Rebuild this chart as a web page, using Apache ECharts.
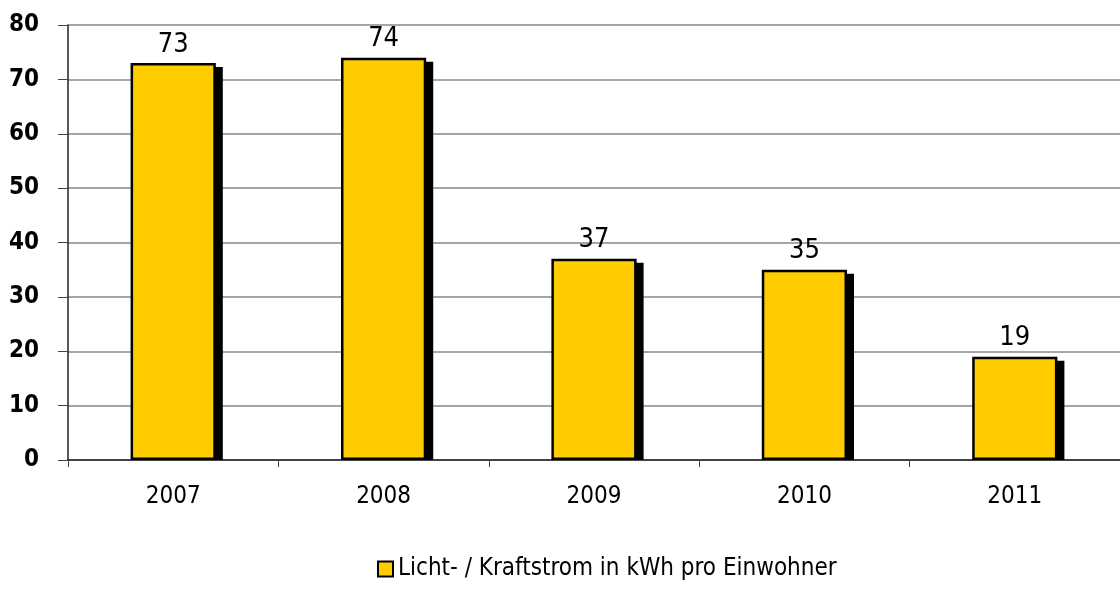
<!DOCTYPE html>
<html>
<head>
<meta charset="utf-8">
<script src="https://cdn.jsdelivr.net/npm/echarts@6/dist/echarts.min.js"></script>
<style>
  html, body { margin: 0; padding: 0; background: #fff; }
  #chart { width: 1120px; height: 591px; }
</style>
</head>
<body>
<div id="chart"></div>
<script>
// data
var years = ['2007', '2008', '2009', '2010', '2011']
var stromWerte = [73, 74, 37, 35, 19]
var serienName = 'Licht- / Kraftstrom in kWh pro Einwohner'

var fontName = '"Liberation Sans Narrow", "DejaVu Sans Condensed", sans-serif'
var barAnteil = 0.405

// black drop shadow behind each bar
function renderShadow(params, api) {
  var top = api.coord([api.value(0), api.value(1)])
  var base = api.coord([api.value(0), 0])
  var w = api.size([1, 0])[0] * barAnteil
  return {
    type: 'rect',
    shape: {
      x: top[0] - w / 2 + 7,
      y: top[1] + 4,
      width: w,
      height: base[1] - top[1] - 4
    },
    style: { fill: '#000' }
  }
}

var chart = echarts.init(document.getElementById('chart'))
chart.setOption({
  animation: false,
  grid: {
    left: 68,
    right: 0,
    top: 25,
    bottom: 131
  },
  legend: {
    bottom: 5,
    left: 372,
    icon: 'rect',
    itemWidth: 15,
    itemHeight: 15,
    itemGap: 4,
    textStyle: {
      fontFamily: fontName,
      fontSize: 24,
      color: '#000'
    },
    data: [serienName]
  },
  xAxis: {
    type: 'category',
    data: years,
    axisLine: {
      lineStyle: { color: '#222', width: 1.5 }
    },
    axisTick: {
      show: true,
      length: 7,
      lineStyle: { color: '#444' }
    },
    axisLabel: {
      margin: 25,
      fontFamily: fontName,
      fontSize: 24,
      color: '#000'
    }
  },
  yAxis: {
    type: 'value',
    min: 0,
    max: 80,
    interval: 10,
    axisLine: {
      show: true,
      lineStyle: { color: '#222', width: 1.5 }
    },
    axisTick: {
      show: true,
      length: 10,
      lineStyle: { color: '#444' }
    },
    splitLine: {
      lineStyle: { color: '#888', width: 1.5 }
    },
    axisLabel: {
      margin: 29,
      fontFamily: fontName,
      fontWeight: 'bold',
      fontSize: 24,
      color: '#000'
    }
  },
  series: [
    {
      name: 'schatten',
      type: 'custom',
      z: 1,
      silent: true,
      renderItem: renderShadow,
      data: stromWerte.map(function (v, i) { return [i, v] })
    },
    {
      name: serienName,
      type: 'bar',
      z: 2,
      barWidth: (barAnteil * 100) + '%',
      data: stromWerte,
      itemStyle: {
        color: '#ffcc00',
        borderColor: '#000',
        borderWidth: 2.5
      },
      label: {
        show: true,
        position: 'top',
        distance: 5,
        fontFamily: fontName,
        fontSize: 27,
        color: '#000'
      }
    }
  ]
})
</script>
</body>
</html>
